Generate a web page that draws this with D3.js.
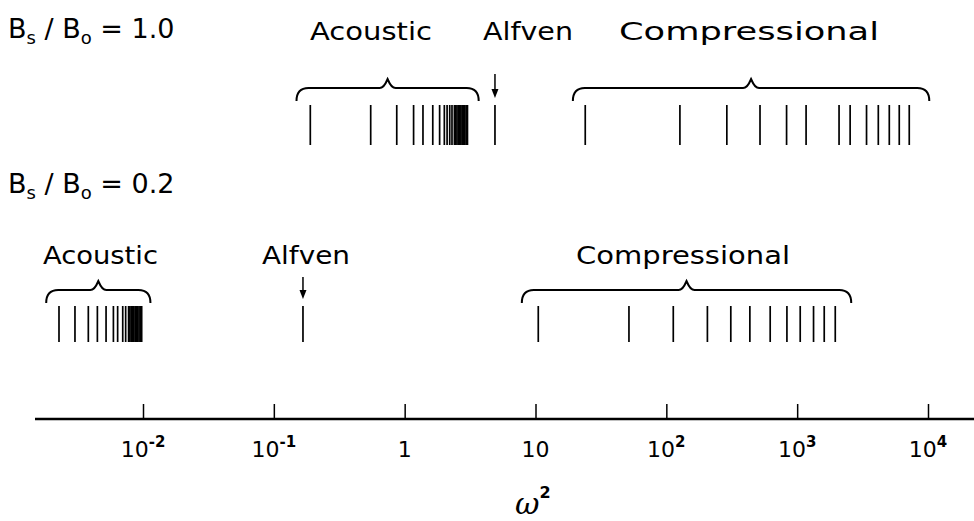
<!DOCTYPE html>
<html><head><meta charset="utf-8">
<script src="https://cdn.jsdelivr.net/npm/d3@7"></script>
<style>body{margin:0;background:#fff}svg{display:block}</style>
</head><body>
<svg id="c" width="974" height="521"></svg>
<script>
// ---- data (omega^2 values) ----
const tickValues = [0.01, 0.1, 1, 10, 100, 1000, 10000];
const tickBase   = ["10", "10", "1", "10", "10", "10", "10"];
const tickExp    = ["-2", "-1", "", "", "2", "3", "4"];

// Bs/B0 = 1.0
const topAcoustic = [0.19, 0.55, 0.87, 1.17, 1.38, 1.64, 1.85, 2.01, 2.11, 2.21, 2.30, 2.40,
                     2.45, 2.51, 2.57, 2.63, 2.69, 2.75, 2.82, 2.88, 2.95, 3.02];
const topAlfven = [4.9];
const topCompressional = [24, 127, 290, 520, 830, 1170, 2090, 2540, 3390, 4170, 5060, 6030, 7190];

// Bs/B0 = 0.2
const botAcoustic = [0.00228, 0.00302, 0.00382, 0.00448, 0.00522, 0.00594, 0.00640, 0.00700, 0.00737,
                     0.00776, 0.00794, 0.00813, 0.00832, 0.00851, 0.00871, 0.00891, 0.00912, 0.00933, 0.00955, 0.00977];
const botAlfven = [0.167];
const botCompressional = [10.5, 51.8, 113, 206, 311, 435, 622, 835, 1055, 1334, 1610, 1955];

// group extents (omega^2) for braces
const groupNames = ["Acoustic", "Alfven", "Compressional"];
const topRanges = [[0.149, 3.68], null, [19.3, 10230]];
const botRanges = [[0.00182, 0.0114], null, [7.86, 2590]];

// ---- drawing ----
const svg = d3.select("#c");
const x = d3.scaleLog().domain([0.01, 10000]).range([143, 928]);
const FONT = "'DejaVu Sans', sans-serif";

function brace(x0, x1, yTop, yEnd, xm, h) {
  const r = 12;
  return `M${x0},${yEnd} C${x0},${yTop+4} ${x0+4},${yTop} ${x0+r},${yTop}` +
         ` L${xm-8},${yTop} C${xm-3},${yTop} ${xm-1},${yTop-h+2} ${xm},${yTop-h}` +
         ` C${xm+1},${yTop-h+2} ${xm+3},${yTop} ${xm+8},${yTop}` +
         ` L${x1-r},${yTop} C${x1-4},${yTop} ${x1},${yTop+4} ${x1},${yEnd}`;
}

function ratioLabel(xp, yb, val) {
  const t = svg.append("text").attr("x", xp).attr("y", yb)
    .attr("font-family", FONT).attr("font-size", 27).attr("fill", "#000");
  t.append("tspan").text("B");
  t.append("tspan").text("s").attr("font-size", 18).attr("dy", 6);
  t.append("tspan").text(" / B").attr("dy", -6);
  t.append("tspan").text("o").attr("font-size", 18).attr("dy", 6);
  t.append("tspan").text(" = " + val).attr("dy", -6);
}

function row(cfg) {
  const g = svg.append("g");
  const lines = [].concat(cfg.acoustic, cfg.alfven, cfg.compressional);
  g.selectAll("line.m").data(lines).join("line").attr("class", "m")
    .attr("x1", d => x(d)).attr("x2", d => x(d))
    .attr("y1", cfg.y0).attr("y2", cfg.y1)
    .attr("stroke", "#000").attr("stroke-width", 1.7);
  // braces
  cfg.ranges.forEach((r, i) => {
    if (!r) return;
    const x0 = x(r[0]), x1 = x(r[1]);
    g.append("path").attr("d", brace(x0, x1, cfg.braceTop, cfg.braceEnd, (x0 + x1) / 2, 9))
      .attr("fill", "none").attr("stroke", "#000").attr("stroke-width", 2);
  });
  // alfven arrow
  const ax = x(cfg.alfven[0]);
  g.append("line").attr("x1", ax).attr("x2", ax).attr("y1", cfg.arrowTop).attr("y2", cfg.arrowBot - 4)
    .attr("stroke", "#000").attr("stroke-width", 1.5);
  g.append("path").attr("d", `M${ax-3.5},${cfg.arrowBot-9} L${ax},${cfg.arrowBot} L${ax+3.5},${cfg.arrowBot-9} Z`)
    .attr("fill", "#000");
  // labels
  cfg.labels.forEach((lb, i) => {
    g.append("text").attr("x", lb[0]).attr("y", cfg.labelY)
      .attr("font-family", FONT).attr("font-size", 25)
      .attr("textLength", lb[1]).attr("lengthAdjust", "spacingAndGlyphs")
      .text(groupNames[i]);
  });
}

ratioLabel(8, 38, "1.0");
ratioLabel(8, 193, "0.2");

row({acoustic: topAcoustic, alfven: topAlfven, compressional: topCompressional,
     ranges: topRanges, y0: 105, y1: 145, braceTop: 88, braceEnd: 101,
     arrowTop: 74, arrowBot: 98, labelY: 40,
     labels: [[310, 122], [483, 90], [619, 260]]});

row({acoustic: botAcoustic, alfven: botAlfven, compressional: botCompressional,
     ranges: botRanges, y0: 306, y1: 342, braceTop: 290, braceEnd: 303,
     arrowTop: 277, arrowBot: 299, labelY: 264,
     labels: [[43, 115], [262, 88], [576, 214]]});

// axis
const axisY = 419;
svg.append("line").attr("x1", 35).attr("x2", 974).attr("y1", axisY).attr("y2", axisY)
  .attr("stroke", "#000").attr("stroke-width", 2.5);
const ax = svg.append("g").attr("transform", `translate(0,${axisY})`)
  .call(d3.axisBottom(x).tickValues(tickValues).tickSize(-15).tickFormat(""));
ax.select(".domain").remove();
ax.selectAll(".tick line").attr("stroke", "#000").attr("stroke-width", 1.5);

const lab = svg.append("g").selectAll("text").data(tickValues).join("text")
  .attr("x", d => x(d)).attr("y", 457).attr("text-anchor", "middle")
  .attr("font-family", FONT).attr("font-size", 22);
lab.append("tspan").text((d, i) => tickBase[i]);
lab.append("tspan").text((d, i) => tickExp[i]).attr("font-size", 15).attr("dy", -10)
  .attr("font-weight", "bold");

const w = svg.append("text").attr("x", 515).attr("y", 514)
  .attr("font-family", "'DejaVu Serif', serif").attr("font-style", "italic").attr("font-size", 30);
w.append("tspan").text("ω");
w.append("tspan").text("2").attr("font-size", 16).attr("dy", -16).attr("font-style", "normal").attr("font-weight", "bold")
  .attr("font-family", FONT);
</script>
</body></html>
